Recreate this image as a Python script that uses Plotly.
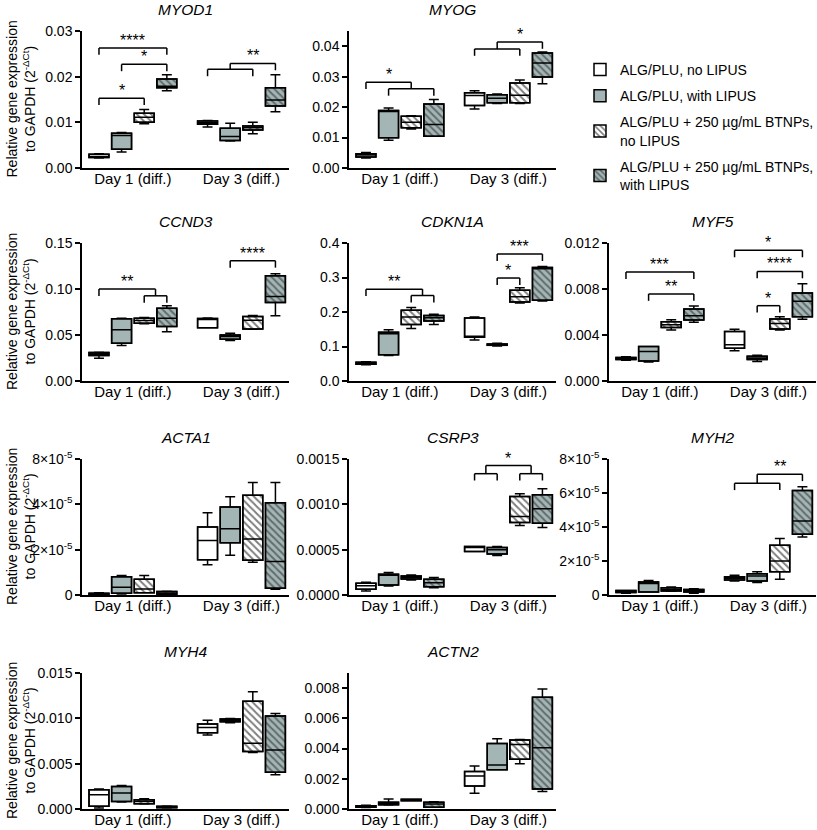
import plotly.graph_objects as go

W, H = 817, 830
FONT = "Liberation Sans, Arial, sans-serif"

GROUPS = ["ALG/PLU, no LIPUS", "ALG/PLU, with LIPUS",
          "ALG/PLU + 250 µg/mL BTNPs,<br>no LIPUS",
          "ALG/PLU + 250 µg/mL BTNPs,<br>with LIPUS"]
DAYS = ["Day 1 (diff.)", "Day 3 (diff.)"]

# Box statistics, order: Day1 groups 1-4, then Day3 groups 1-4
MYOD1 = dict(lo=[0.0022, 0.0035, 0.0097, 0.0169, 0.0090, 0.0059, 0.0075, 0.0123],
             q1=[0.0023, 0.0041, 0.0100, 0.0176, 0.0096, 0.0060, 0.0083, 0.0136],
             med=[0.0025, 0.0071, 0.0111, 0.0179, 0.0099, 0.0069, 0.0088, 0.0149],
             q3=[0.0030, 0.0076, 0.0120, 0.0195, 0.0103, 0.0087, 0.0092, 0.0176],
             hi=[0.0031, 0.0078, 0.0128, 0.0204, 0.0104, 0.0098, 0.0100, 0.0204])
MYOG = dict(lo=[0.0033, 0.0091, 0.0128, 0.0104, 0.0194, 0.0212, 0.0212, 0.0277],
            q1=[0.0036, 0.0099, 0.0132, 0.0104, 0.0205, 0.0214, 0.0214, 0.0299],
            med=[0.0043, 0.0187, 0.0150, 0.0143, 0.0238, 0.0229, 0.0239, 0.0345],
            q3=[0.0047, 0.0189, 0.0170, 0.0210, 0.0247, 0.0241, 0.0279, 0.0378],
            hi=[0.0051, 0.0197, 0.0172, 0.0225, 0.0254, 0.0243, 0.0289, 0.0381])
CCND3 = dict(lo=[0.0247, 0.0385, 0.0621, 0.0534, 0.0578, 0.0439, 0.0563, 0.0708],
             q1=[0.0276, 0.0410, 0.0628, 0.0592, 0.0580, 0.0454, 0.0565, 0.0854],
             med=[0.0294, 0.0556, 0.0657, 0.0683, 0.0675, 0.0483, 0.0660, 0.0919],
             q3=[0.0309, 0.0676, 0.0683, 0.0792, 0.0680, 0.0501, 0.0701, 0.1144],
             hi=[0.0312, 0.0683, 0.0690, 0.0817, 0.0685, 0.0519, 0.0712, 0.1166])
CDKN1A = dict(lo=[0.0468, 0.0741, 0.1522, 0.1639, 0.1190, 0.1015, 0.2263, 0.2322],
              q1=[0.0488, 0.0761, 0.1639, 0.1737, 0.1268, 0.1034, 0.2293, 0.2341],
              med=[0.0517, 0.1366, 0.1854, 0.1834, 0.1300, 0.1054, 0.2439, 0.3255],
              q3=[0.0546, 0.1415, 0.2049, 0.1902, 0.1824, 0.1073, 0.2634, 0.3288],
              hi=[0.0556, 0.1483, 0.2127, 0.1932, 0.1854, 0.1093, 0.2702, 0.3317])
MYF5 = dict(lo=[0.00180, 0.00166, 0.00443, 0.00510, 0.00262, 0.00169, 0.00443, 0.00536],
            q1=[0.00186, 0.00175, 0.00466, 0.00530, 0.00285, 0.00186, 0.00452, 0.00559],
            med=[0.00195, 0.00256, 0.00489, 0.00568, 0.00315, 0.00201, 0.00501, 0.00693],
            q3=[0.00204, 0.00300, 0.00516, 0.00626, 0.00431, 0.00216, 0.00539, 0.00766],
            hi=[0.00210, 0.00300, 0.00533, 0.00652, 0.00449, 0.00224, 0.00559, 0.00845])
ACTA1 = dict(lo=[1e-7, 4.4e-7, 1.0e-6, 3e-7, 1.33e-5, 1.75e-5, 1.44e-5, 2.5e-6],
             q1=[3e-7, 7.4e-7, 1.0e-6, 3e-7, 1.56e-5, 2.30e-5, 1.53e-5, 3.0e-6],
             med=[5e-7, 3.4e-6, 2.6e-6, 7e-7, 2.40e-5, 2.92e-5, 2.47e-5, 1.48e-5],
             q3=[7.4e-7, 8.1e-6, 7.0e-6, 1.5e-6, 3.00e-5, 3.88e-5, 4.40e-5, 4.07e-5],
             hi=[1.0e-6, 8.6e-6, 8.6e-6, 1.6e-6, 3.63e-5, 4.34e-5, 4.96e-5, 4.96e-5])
CSRP3 = dict(lo=[4.4e-5, 1.0e-4, 1.66e-4, 8.1e-5, 4.79e-4, 4.35e-4, 7.67e-4, 7.45e-4],
             q1=[6.3e-5, 1.1e-4, 1.77e-4, 9.2e-5, 4.79e-4, 4.53e-4, 8.00e-4, 7.92e-4],
             med=[1.03e-4, 2.2e-4, 1.95e-4, 1.36e-4, 5.27e-4, 4.98e-4, 8.66e-4, 9.51e-4],
             q3=[1.29e-4, 2.29e-4, 2.10e-4, 1.73e-4, 5.34e-4, 5.23e-4, 1.087e-3, 1.106e-3],
             hi=[1.40e-4, 2.47e-4, 2.20e-4, 1.92e-4, 5.34e-4, 5.34e-4, 1.117e-3, 1.172e-3])
MYH2 = dict(lo=[1.0e-6, 1.8e-6, 2.2e-6, 1.0e-6, 8.2e-6, 7.3e-6, 9.2e-6, 3.41e-5],
            q1=[1.4e-6, 1.8e-6, 2.4e-6, 1.8e-6, 8.8e-6, 8.2e-6, 1.37e-5, 3.57e-5],
            med=[2.0e-6, 6.7e-6, 3.3e-6, 2.5e-6, 9.8e-6, 1.12e-5, 2.0e-5, 4.35e-5],
            q3=[2.7e-6, 7.6e-6, 4.3e-6, 3.3e-6, 1.08e-5, 1.25e-5, 2.92e-5, 6.15e-5],
            hi=[2.7e-6, 8.6e-6, 4.7e-6, 3.7e-6, 1.16e-5, 1.37e-5, 3.33e-5, 6.37e-5])
MYH4 = dict(lo=[0.0001, 0.00077, 0.00055, 0.0001, 0.00816, 0.00951, 0.00622, 0.00377],
            q1=[0.00029, 0.00084, 0.00059, 0.00015, 0.00842, 0.00962, 0.00633, 0.00406],
            med=[0.00157, 0.00176, 0.00084, 0.00022, 0.0090, 0.00977, 0.00725, 0.00651],
            q3=[0.00212, 0.00249, 0.00102, 0.00029, 0.00937, 0.00992, 0.01189, 0.01025],
            hi=[0.0022, 0.0026, 0.00113, 0.00033, 0.0098, 0.00999, 0.01292, 0.01054])
ACTN2 = dict(lo=[0.0001, 0.00026, 0.00054, 0.00011, 0.00105, 0.00259, 0.0030, 0.00116],
             q1=[0.00011, 0.00028, 0.00055, 0.00011, 0.00153, 0.00259, 0.00329, 0.00132],
             med=[0.00016, 0.00035, 0.00059, 0.00033, 0.00219, 0.00292, 0.00427, 0.00406],
             q3=[0.00022, 0.00044, 0.00064, 0.00044, 0.00248, 0.00434, 0.00456, 0.00739],
             hi=[0.00024, 0.00066, 0.00065, 0.00048, 0.00285, 0.00465, 0.0046, 0.00794])

# Significance brackets: (left boxes, right boxes, top level, sub-bracket level, label)
BRACKETS = {
    "MYOD1": [([0], [3], 0.0263, None, "****"), ([1], [3], 0.0227, None, "*"),
              ([0], [2], 0.0153, None, "*"), ([4, 5, 6], [7], 0.0229, 0.0216, "**")],
    "MYOG": [([0], [1, 2, 3], 0.0282, 0.0260, "*"), ([4, 5, 6], [7], 0.0414, 0.0391, "*")],
    "CCND3": [([0], [2, 3], 0.0999, 0.0926, "**"), ([5], [7], 0.1307, None, "****")],
    "CDKN1A": [([0], [2, 3], 0.2663, 0.2478, "**"), ([5], [6], 0.2985, None, "*"),
               ([5], [7], 0.3678, None, "***")],
    "MYF5": [([0], [3], 0.00947, None, "***"), ([1], [3], 0.00757, None, "**"),
             ([4], [7], 0.01136, None, "*"), ([5], [7], 0.00953, None, "****"),
             ([5], [6], 0.00655, None, "*")],
    "CSRP3": [([4, 5], [6, 7], 0.001427, 0.001338, "*")],
    "MYH2": [([4, 5, 6], [7], 7.1e-5, 6.57e-5, "**")],
}

SCI = ["0", "2×10<sup>-5</sup>", "4×10<sup>-5</sup>", "6×10<sup>-5</sup>", "8×10<sup>-5</sup>"]
# (gene, stats, column, row, y max, tick values, tick labels)
PANELS = [
    ("MYOD1", MYOD1, 0, 0, 0.03, [0, 0.01, 0.02, 0.03], ".2f"),
    ("MYOG", MYOG, 1, 0, 0.045, [0, 0.01, 0.02, 0.03, 0.04], ".2f"),
    ("CCND3", CCND3, 0, 1, 0.15, [0, 0.05, 0.10, 0.15], ".2f"),
    ("CDKN1A", CDKN1A, 1, 1, 0.4, [0, 0.1, 0.2, 0.3, 0.4], ".1f"),
    ("MYF5", MYF5, 2, 1, 0.012, [0, 0.004, 0.008, 0.012], ".3f"),
    ("ACTA1", ACTA1, 0, 2, 6e-5, [0, 2e-5, 4e-5, 6e-5], [SCI[0], SCI[1], SCI[2], SCI[4]]),
    ("CSRP3", CSRP3, 1, 2, 0.0015, [0, 0.0005, 0.0010, 0.0015], ".4f"),
    ("MYH2", MYH2, 2, 2, 8e-5, [0, 2e-5, 4e-5, 6e-5, 8e-5], SCI),
    ("MYH4", MYH4, 0, 3, 0.015, [0, 0.005, 0.010, 0.015], ".3f"),
    ("ACTN2", ACTN2, 1, 3, 0.009, [0, 0.002, 0.004, 0.006, 0.008], ".3f"),
]

POS = [0, 1, 2, 3, 4.8, 5.8, 6.8, 7.8]
GREY = "#a3b5b5"
FILL = ["white", GREY, "white", GREY]
HATCH = ["", "", "\\", "\\"]
HATCH_COL = ["black", "black", "black", "#222222"]

COLS_PX = [(82, 289), (349, 556), (609, 816)]
ROWS_PX = [(31, 168), (243, 381), (459, 595), (673, 809)]

fig = go.Figure()
layout = {}
shapes = []
annotations = []

for k, (gene, st, c, r, ymax, tv, tt) in enumerate(PANELS):
    n = "" if k == 0 else str(k + 1)
    xa, ya = "x" + n, "y" + n
    x0, x1 = COLS_PX[c]
    top, bot = ROWS_PX[r]
    if isinstance(tt, str):
        ticktext = [format(v, tt) for v in tv]
    else:
        ticktext = tt
    layout["xaxis" + n] = dict(domain=[x0 / W, x1 / W], anchor=ya, range=[-0.75, 8.4],
                               showline=True, linecolor="black", linewidth=1.5,
                               ticks="", tickvals=[1.5, 6.3], ticktext=DAYS,
                               tickfont=dict(size=15, color="black", family=FONT),
                               ticklabelstandoff=-4,
                               showgrid=False, zeroline=False, fixedrange=True,
                               automargin=False)
    layout["yaxis" + n] = dict(domain=[1 - bot / H, 1 - top / H], anchor=xa, range=[0, ymax],
                               showline=True, linecolor="black", linewidth=1.5,
                               ticks="outside", ticklen=5, tickwidth=1.5, tickcolor="black",
                               tickvals=tv, ticktext=ticktext,
                               tickfont=dict(size=14, color="black", family=FONT),
                               showgrid=False, zeroline=False, fixedrange=True,
                               automargin=False)
    for g in range(4):
        idx = [g, g + 4]
        fig.add_trace(go.Bar(
            x=[POS[i] for i in idx],
            y=[st["q3"][i] - st["q1"][i] for i in idx],
            base=[st["q1"][i] for i in idx],
            width=0.88, name=GROUPS[g], legendgroup=str(g), showlegend=(k == 0),
            marker=dict(color=FILL[g], line=dict(color="black", width=1.5),
                        pattern=dict(shape=HATCH[g], fgcolor=HATCH_COL[g], bgcolor=FILL[g],
                                     size=5, solidity=0.4, fillmode="overlay")),
            xaxis=xa, yaxis=ya, hoverinfo="skip"))
        fig.add_trace(go.Box(
            x=[POS[i] for i in idx],
            q1=[st["q1"][i] for i in idx], median=[st["med"][i] for i in idx],
            q3=[st["q3"][i] for i in idx], lowerfence=[st["lo"][i] for i in idx],
            upperfence=[st["hi"][i] for i in idx],
            width=0.88, whiskerwidth=0.5, fillcolor="rgba(0,0,0,0)",
            line=dict(color="black", width=1.5), boxpoints=False,
            showlegend=False, xaxis=xa, yaxis=ya, hoverinfo="skip"))

    # title
    annotations.append(dict(text="<i>" + gene + "</i>", x=(x0 + x1) / 2 / W, y=1 - (top - 22) / H,
                            xref="paper", yref="paper", showarrow=False, xanchor="center",
                            yanchor="middle", font=dict(size=15.5, color="black", family=FONT)))
    if c == 0:
        annotations.append(dict(text="Relative gene expression<br>to GAPDH (2<sup>-ΔCt</sup>)",
                                x=21 / W, y=1 - (top + bot) / 2 / H, xref="paper", yref="paper",
                                showarrow=False, textangle=-90, xanchor="center", yanchor="middle",
                                font=dict(size=14, color="black", family=FONT)))

    # significance brackets
    d = 0.05 * ymax
    line = dict(color="black", width=1.5)
    for left, right, ytop, ysub, lab in BRACKETS.get(gene, []):
        centers = []
        for grp in (left, right):
            ps = [POS[i] for i in grp]
            if len(ps) > 1:
                cx = (min(ps) + max(ps)) / 2
                shapes.append(dict(type="line", xref=xa, yref=ya, x0=min(ps), x1=max(ps),
                                   y0=ysub, y1=ysub, line=line))
                for p in (min(ps), max(ps)):
                    shapes.append(dict(type="line", xref=xa, yref=ya, x0=p, x1=p,
                                       y0=ysub, y1=ysub - d, line=line))
                shapes.append(dict(type="line", xref=xa, yref=ya, x0=cx, x1=cx,
                                   y0=ysub, y1=ytop, line=line))
            else:
                cx = ps[0]
                shapes.append(dict(type="line", xref=xa, yref=ya, x0=cx, x1=cx,
                                   y0=ytop, y1=ytop - d, line=line))
            centers.append(cx)
        shapes.append(dict(type="line", xref=xa, yref=ya, x0=centers[0], x1=centers[1],
                           y0=ytop, y1=ytop, line=line))
        annotations.append(dict(text=lab, x=(centers[0] + centers[1]) / 2, y=ytop, xref=xa, yref=ya,
                                showarrow=False, xanchor="center", yanchor="bottom", yshift=-3,
                                font=dict(size=16, color="black", family=FONT)))

fig.update_layout(**layout)
fig.update_layout(
    width=W, height=H, margin=dict(l=0, r=0, t=0, b=0, autoexpand=False),
    paper_bgcolor="white", plot_bgcolor="white",
    barmode="overlay", boxmode="overlay",
    shapes=shapes, annotations=annotations,
    showlegend=True,
    legend=dict(x=580 / W, y=1 - 54 / H, xanchor="left", yanchor="top",
                font=dict(size=14, color="black", family=FONT),
                tracegroupgap=5, bgcolor="rgba(0,0,0,0)", traceorder="grouped"),
    font=dict(family=FONT, color="black"),
)

fig.write_html("out.html", config={"displayModeBar": False},
               post_script="document.body.style.margin='0';document.body.style.overflow='hidden';")
